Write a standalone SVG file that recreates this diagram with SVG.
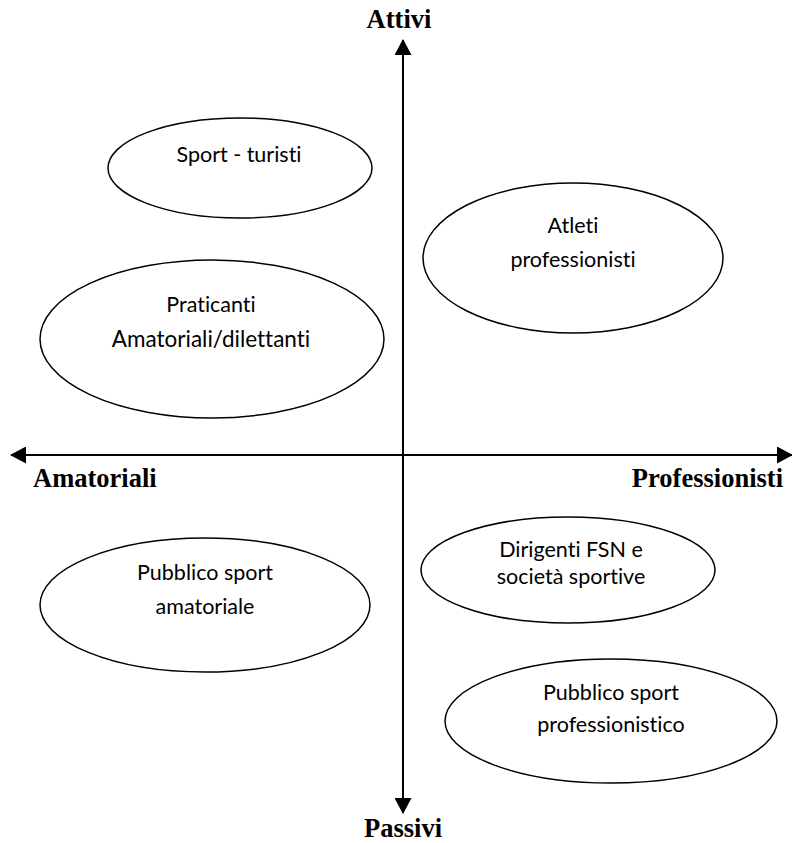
<svg xmlns="http://www.w3.org/2000/svg" width="792" height="843" viewBox="0 0 792 843">
<style>
.node ellipse{fill:#fff;stroke:#000;stroke-width:1.5}
.node text{font-family:Lato,"Open Sans",sans-serif;font-size:21.5px;fill:#000;text-anchor:middle;font-variant-ligatures:none}
.axis{stroke:#000;stroke-width:2;fill:none}
.lbl{font-family:"Liberation Serif","Times New Roman",serif;font-weight:bold;font-size:26.5px;fill:#000}
</style>
<defs>
<marker id="ah" viewBox="0 0 16 17" refX="15" refY="8.5" markerWidth="16" markerHeight="17" markerUnits="userSpaceOnUse" orient="auto">
<path d="M0,0 L16,8.5 L0,17 Z" fill="#000"/>
</marker>
</defs>
<rect width="792" height="843" fill="#fff"/>
<g id="connectors">
<line class="axis" x1="403" y1="455" x2="403" y2="40" marker-end="url(#ah)"/>
<line class="axis" x1="403" y1="455" x2="403" y2="813" marker-end="url(#ah)"/>
<line class="axis" x1="403" y1="455" x2="11" y2="455" marker-end="url(#ah)"/>
<line class="axis" x1="403" y1="455" x2="792" y2="455" marker-end="url(#ah)"/>
</g>
<g id="axis-labels">
<text class="lbl" x="399" y="28" text-anchor="middle">Attivi</text>
<text class="lbl" x="403" y="837" text-anchor="middle">Passivi</text>
<text class="lbl" x="33" y="487">Amatoriali</text>
<text class="lbl" x="783" y="487" text-anchor="end">Professionisti</text>
</g>
<g id="sport-turisti" class="node">
<ellipse cx="240" cy="168" rx="132" ry="50"/>
<text x="239" y="162">Sport - turisti</text>
</g>
<g id="atleti" class="node">
<ellipse cx="573" cy="258" rx="150" ry="75"/>
<text x="573" y="233">Atleti</text>
<text x="573" y="267">professionisti</text>
</g>
<g id="praticanti" class="node">
<ellipse cx="212" cy="339" rx="172" ry="79"/>
<text x="211" y="312">Praticanti</text>
<text x="211" y="347" style="font-size:22.5px">Amatoriali/dilettanti</text>
</g>
<g id="pubblico-amatoriale" class="node">
<ellipse cx="205" cy="605" rx="165" ry="67"/>
<text x="205" y="580">Pubblico sport</text>
<text x="205" y="614">amatoriale</text>
</g>
<g id="dirigenti" class="node">
<ellipse cx="568" cy="570" rx="147" ry="53"/>
<text x="571" y="557">Dirigenti FSN e</text>
<text x="571" y="584">società sportive</text>
</g>
<g id="pubblico-professionistico" class="node">
<ellipse cx="611" cy="721" rx="166" ry="62"/>
<text x="611" y="700">Pubblico sport</text>
<text x="611" y="732">professionistico</text>
</g>
</svg>
